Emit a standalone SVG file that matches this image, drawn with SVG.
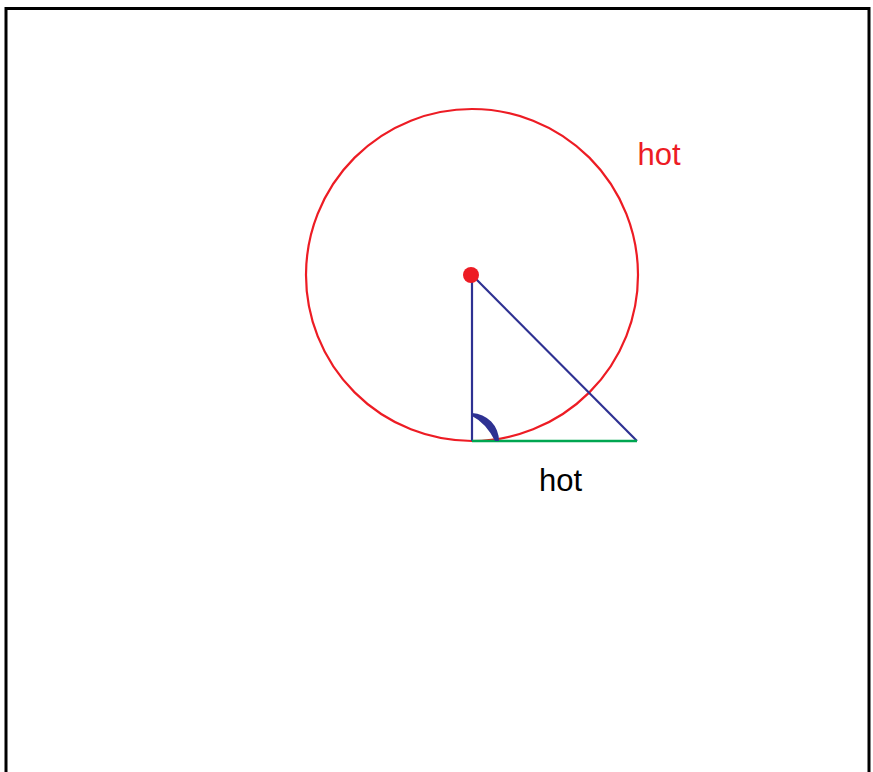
<svg xmlns="http://www.w3.org/2000/svg" width="873" height="772" viewBox="0 0 873 772">
<style>
.blue{stroke:#2e3192;stroke-width:2.2;fill:none}
.lbl{font-family:"Liberation Sans",Arial,sans-serif;font-size:31px;text-anchor:middle}
</style>
<rect x="0" y="0" width="873" height="772" fill="#fff"/>
<path d="M6,780 V8.5 H869 V780" fill="none" stroke="#000" stroke-width="3"/>
<g id="circle">
<circle cx="472" cy="275" r="166" fill="none" stroke="#ed1c24" stroke-width="2.2"/>
<text class="lbl" x="659" y="165" fill="#ed1c24">hot</text>
</g>
<g id="connectors">
<line class="blue" x1="472" y1="275" x2="472" y2="441"/>
<line class="blue" x1="472" y1="275" x2="637" y2="441"/>
<line x1="472" y1="441" x2="637" y2="441" stroke="#00a651" stroke-width="2.5"/>
</g>
<g id="angle">
<path d="M472,413 A28,28 0 0 1 499,441 L495,441 Q486,423 472,416 Z" fill="#2e3192"/>
</g>
<g id="center">
<circle cx="471" cy="275" r="8" fill="#ed1c24"/>
</g>
<g id="base-label">
<text class="lbl" x="560.5" y="491" fill="#000">hot</text>
</g>
</svg>
